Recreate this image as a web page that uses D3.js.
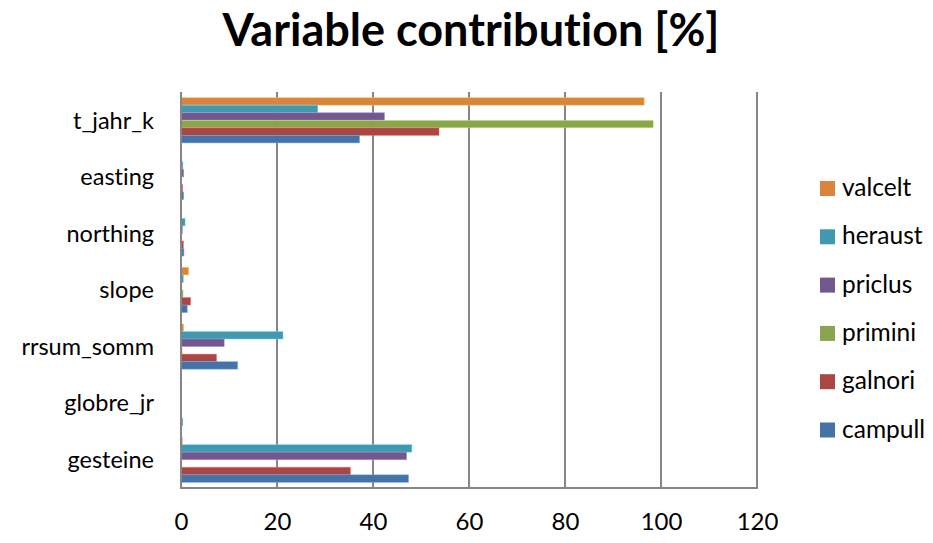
<!DOCTYPE html>
<html>
<head>
<meta charset="utf-8">
<script src="https://cdn.jsdelivr.net/npm/d3@7"></script>
<style>
  html, body { margin: 0; padding: 0; background: #fff; }
  svg { display: block; }
  text { font-family: Lato, "Open Sans", sans-serif; fill: #000; font-variant-ligatures: none; font-feature-settings: "liga" 0, "clig" 0; }
</style>
</head>
<body>
<svg id="chart" width="933" height="543"></svg>
<script>
// Variables (top to bottom)
const categories = ["t_jahr_k", "easting", "northing", "slope", "rrsum_somm", "globre_jr", "gesteine"];

// Species, in the order bars are stacked inside each group (top to bottom)
const seriesNames = ["valcelt", "heraust", "priclus", "primini", "galnori", "campull"];
const seriesColors = ["#DB843D", "#4198AF", "#71588F", "#89A54E", "#AA4643", "#4572A7"];

// Contribution [%] per species, one value per variable
const valcelt = [96.5, 0.2, 0.1, 1.6, 0.55, 0.1, 0.3];
const heraust = [28.5, 0.4, 0.85, 0.5, 21.25, 0.0, 48.1];
const priclus = [42.4, 0.55, 0.3, 0.15, 9.0, 0.1, 47.0];
const primini = [98.4, 0.1, 0.1, 0.45, 0.25, 0.0, 0.0];
const galnori = [53.75, 0.35, 0.5, 2.0, 7.4, 0.1, 35.3];
const campull = [37.2, 0.55, 0.6, 1.3, 11.8, 0.35, 47.4];
const seriesValues = [valcelt, heraust, priclus, primini, galnori, campull];

const xTicks = [0, 20, 40, 60, 80, 100, 120];

const svg = d3.select("#chart");
const plot = { left: 181, right: 757, top: 92, bottom: 488 };

const x = d3.scaleLinear().domain([0, 120]).range([plot.left, plot.right]);
const y0 = d3.scaleBand().domain(categories).range([plot.top, plot.bottom]).paddingInner(0.2).paddingOuter(0.1);
const y1 = d3.scaleBand().domain(seriesNames).range([0, y0.bandwidth()]);

// Title
svg.append("text")
  .attr("x", 471).attr("y", 46)
  .attr("text-anchor", "middle")
  .style("font-weight", "bold")
  .style("font-size", "45px")
  .text("Variable contribution [%]");

// Vertical gridlines
svg.append("g")
  .selectAll("line")
  .data(xTicks.slice(1))
  .join("line")
  .attr("x1", d => x(d)).attr("x2", d => x(d))
  .attr("y1", plot.top).attr("y2", plot.bottom)
  .attr("stroke", "#868686").attr("stroke-width", 2);

// Bars
const groups = svg.append("g")
  .selectAll("g")
  .data(categories)
  .join("g")
  .attr("transform", c => `translate(0,${y0(c) - y0.step() * y0.paddingInner() / 2 + (y0.step() - y0.bandwidth()) / 2})`);

groups.selectAll("rect")
  .data((c, i) => seriesNames.map((s, k) => ({ s, k, v: seriesValues[k][i] })))
  .join("rect")
  .attr("x", x(0))
  .attr("y", d => y1(d.s))
  .attr("width", d => Math.max(0, x(d.v) - x(0)))
  .attr("height", y1.bandwidth())
  .attr("fill", d => seriesColors[d.k])
  .attr("stroke", d => d3.color(seriesColors[d.k]).brighter(1.2))
  .attr("stroke-opacity", 0.6)
  .attr("stroke-width", 0.8);

// Axis lines
svg.append("line")
  .attr("x1", plot.left).attr("x2", plot.left)
  .attr("y1", plot.top).attr("y2", plot.bottom)
  .attr("stroke", "#868686").attr("stroke-width", 2);
svg.append("line")
  .attr("x1", plot.left - 1).attr("x2", plot.right + 1)
  .attr("y1", plot.bottom).attr("y2", plot.bottom)
  .attr("stroke", "#868686").attr("stroke-width", 2);

// X tick labels
const xAxis = d3.axisBottom(x).tickValues(xTicks).tickSize(0).tickPadding(0);
const gx = svg.append("g").attr("transform", `translate(0,${plot.bottom})`).call(xAxis);
gx.select(".domain").remove();
gx.selectAll("text")
  .attr("y", 42).attr("dy", null)
  .style("font-family", "Lato, sans-serif")
  .style("font-size", "24px")
  .attr("fill", "#000");

// Category labels
const yAxis = d3.axisLeft(y0).tickSize(0).tickPadding(0);
const gy = svg.append("g").attr("transform", `translate(${plot.left},0)`).call(yAxis);
gy.select(".domain").remove();
gy.selectAll("text")
  .attr("x", -27)
  .attr("dy", "0.35em")
  .style("font-family", "Lato, sans-serif")
  .style("font-size", "23.5px")
  .attr("fill", "#000");

// Legend
const legend = svg.append("g").attr("transform", "translate(820,181)");
const item = legend.selectAll("g")
  .data(seriesNames)
  .join("g")
  .attr("transform", (d, i) => `translate(0,${i * 48.3})`);
item.append("rect")
  .attr("width", 15).attr("height", 15)
  .attr("fill", (d, i) => seriesColors[i]);
item.append("text")
  .attr("x", 22).attr("y", 15)
  .style("font-size", "24.5px")
  .text(d => d);
</script>
</body>
</html>
